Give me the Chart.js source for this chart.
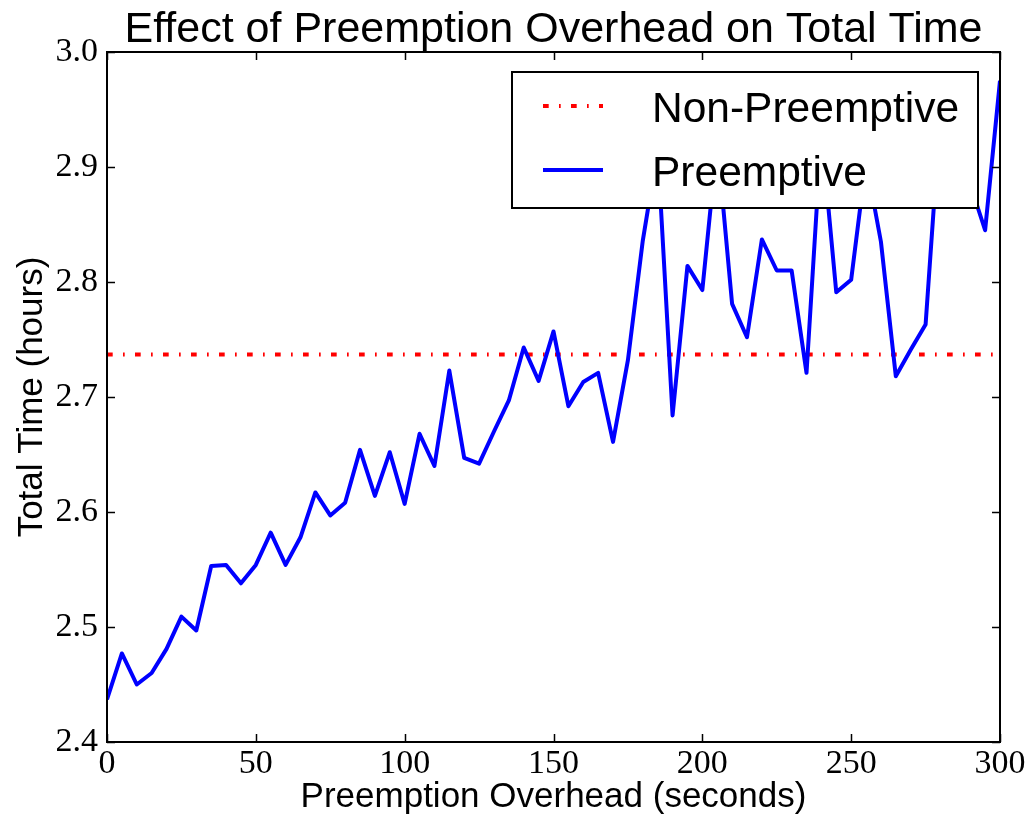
<!DOCTYPE html>
<html lang="en">
<head>
  <meta charset="UTF-8" />
  <title>Effect of Preemption Overhead on Total Time</title>
  <script src="https://cdn.jsdelivr.net/npm/chart.js"></script>
  <style>
    body {
      margin: 0;
      background-color: white;
    }
    #wrap {
      width: 1028px;
      height: 818px;
    }
  </style>
</head>
<body>
  <div id="wrap">
    <canvas id="chart" width="1028" height="818"></canvas>
  </div>

  <script>
    // overhead per preemption (seconds)
    const overheadSeconds = [
      0, 5, 10, 15, 20, 25, 30, 35, 40, 45,
      50, 55, 60, 65, 70, 75, 80, 85, 90, 95,
      100, 105, 110, 115, 120, 125, 130, 135, 140, 145,
      150, 155, 160, 165, 170, 175, 180, 185, 190, 195,
      200, 205, 210, 215, 220, 225, 230, 235, 240, 245,
      250, 255, 260, 265, 270, 275, 280, 285, 290, 295,
      300
    ];

    // total time of the preemptive run (hours)
    const preemptiveHours = [
      2.437, 2.477, 2.450, 2.460, 2.481, 2.509, 2.497, 2.553, 2.554, 2.538,
      2.554, 2.582, 2.554, 2.578, 2.617, 2.597, 2.608, 2.654, 2.614, 2.652,
      2.607, 2.668, 2.640, 2.723, 2.647, 2.642, 2.670, 2.697, 2.743, 2.714,
      2.757, 2.692, 2.713, 2.721, 2.661, 2.732, 2.836, 2.915, 2.684, 2.814,
      2.793, 2.922, 2.781, 2.752, 2.837, 2.810, 2.810, 2.721, 2.930, 2.791,
      2.802, 2.905, 2.835, 2.718, 2.741, 2.763, 2.948, 2.930, 2.885, 2.845,
      2.975
    ];

    // non-preemptive run does not depend on the overhead
    const nonPreemptiveHours = 2.737;

    const xTickValues = [0, 50, 100, 150, 200, 250, 300];
    const yTickValues = [2.4, 2.5, 2.6, 2.7, 2.8, 2.9, 3.0];

    const sansFont = '"Liberation Sans", Arial, sans-serif';
    const serifFont = '"Liberation Serif", "DejaVu Serif", serif';
    const redDash = [5.7, 10.3, 1.7, 10.3];

    // matplotlib-style box: frame, inward ticks on all sides, title and legend
    const boxPlugin = {
      id: 'box',
      afterDatasetsDraw(chart) {
        const { ctx, chartArea: a, scales } = chart;
        const tickLen = 8;
        ctx.save();
        ctx.strokeStyle = '#000';
        ctx.lineWidth = 1.5;
        ctx.beginPath();
        scales.x.ticks.forEach(t => {
          const px = Math.round(scales.x.getPixelForValue(t.value)) + 0.5;
          ctx.moveTo(px, a.bottom); ctx.lineTo(px, a.bottom - tickLen);
          ctx.moveTo(px, a.top); ctx.lineTo(px, a.top + tickLen);
        });
        scales.y.ticks.forEach(t => {
          const py = Math.round(scales.y.getPixelForValue(t.value)) + 0.5;
          ctx.moveTo(a.left, py); ctx.lineTo(a.left + tickLen, py);
          ctx.moveTo(a.right, py); ctx.lineTo(a.right - tickLen, py);
        });
        ctx.stroke();

        ctx.lineWidth = 2;
        ctx.strokeRect(a.left, a.top, a.right - a.left, a.bottom - a.top);

        // title centred over the plot area
        ctx.fillStyle = '#000';
        ctx.font = '43px ' + sansFont;
        ctx.textAlign = 'center';
        ctx.textBaseline = 'alphabetic';
        ctx.fillText('Effect of Preemption Overhead on Total Time', (a.left + a.right) / 2, 41.5);

        // legend, upper right inside the axes
        const lx = a.right - 488, ly = a.top + 20, lw = 466, lh = 136;
        ctx.fillStyle = '#fff';
        ctx.fillRect(lx, ly, lw, lh);
        ctx.lineWidth = 2;
        ctx.strokeStyle = '#000';
        ctx.strokeRect(lx, ly, lw, lh);

        chart.data.datasets.forEach((ds, i) => {
          const rowY = ly + 34 + i * 64;
          ctx.save();
          ctx.strokeStyle = ds.borderColor;
          ctx.lineWidth = ds.borderWidth;
          ctx.setLineDash(ds.borderDash || []);
          ctx.beginPath();
          ctx.moveTo(lx + 31, rowY);
          ctx.lineTo(lx + 91, rowY);
          ctx.stroke();
          ctx.restore();

          ctx.fillStyle = '#000';
          ctx.font = '42.5px ' + sansFont;
          ctx.textAlign = 'left';
          ctx.fillText(ds.label, lx + 140, rowY + 15.5);
        });
        ctx.restore();
      }
    };

    const ctx = document.getElementById('chart').getContext('2d');
    new Chart(ctx, {
      type: 'line',
      data: {
        datasets: [
          {
            label: 'Non-Preemptive',
            data: [
              { x: overheadSeconds[0], y: nonPreemptiveHours },
              { x: overheadSeconds[overheadSeconds.length - 1], y: nonPreemptiveHours }
            ],
            borderColor: '#ff0000',
            borderWidth: 4,
            borderDash: redDash,
            pointRadius: 0,
            order: 1
          },
          {
            label: 'Preemptive',
            data: overheadSeconds.map((s, i) => ({ x: s, y: preemptiveHours[i] })),
            borderColor: '#0000ff',
            borderWidth: 4,
            pointRadius: 0,
            borderJoinStyle: 'round',
            order: 0
          }
        ]
      },
      options: {
        responsive: false,
        animation: false,
        devicePixelRatio: 1,
        layout: { padding: { top: 52, right: 28, left: 0, bottom: 0 } },
        plugins: {
          legend: { display: false },
          title: { display: false },
          tooltip: { enabled: false }
        },
        scales: {
          x: {
            type: 'linear',
            min: 0,
            max: 300,
            afterFit: s => { s.height = 76; },
            afterBuildTicks: s => { s.ticks = xTickValues.map(v => ({ value: v })); },
            grid: { display: false, drawTicks: false },
            border: { display: false },
            ticks: {
              color: '#000',
              padding: 2,
              font: { family: serifFont, size: 34 },
              maxRotation: 0,
              autoSkip: false,
              callback: v => String(v)
            },
            title: {
              display: true,
              text: 'Preemption Overhead (seconds)',
              color: '#000',
              font: { family: sansFont, size: 35 },
              padding: { top: 0, bottom: 0 }
            }
          },
          y: {
            type: 'linear',
            min: 2.4,
            max: 3.0,
            afterFit: s => { s.width = 107; },
            afterBuildTicks: s => { s.ticks = yTickValues.map(v => ({ value: v })); },
            grid: { display: false, drawTicks: false },
            border: { display: false },
            ticks: {
              color: '#000',
              padding: 9,
              font: { family: serifFont, size: 34 },
              callback: v => Number(v).toFixed(1)
            },
            title: {
              display: true,
              text: 'Total Time (hours)',
              color: '#000',
              font: { family: sansFont, size: 35 },
              padding: { top: 11, bottom: 0 }
            }
          }
        }
      },
      plugins: [boxPlugin]
    });
  </script>
</body>
</html>
